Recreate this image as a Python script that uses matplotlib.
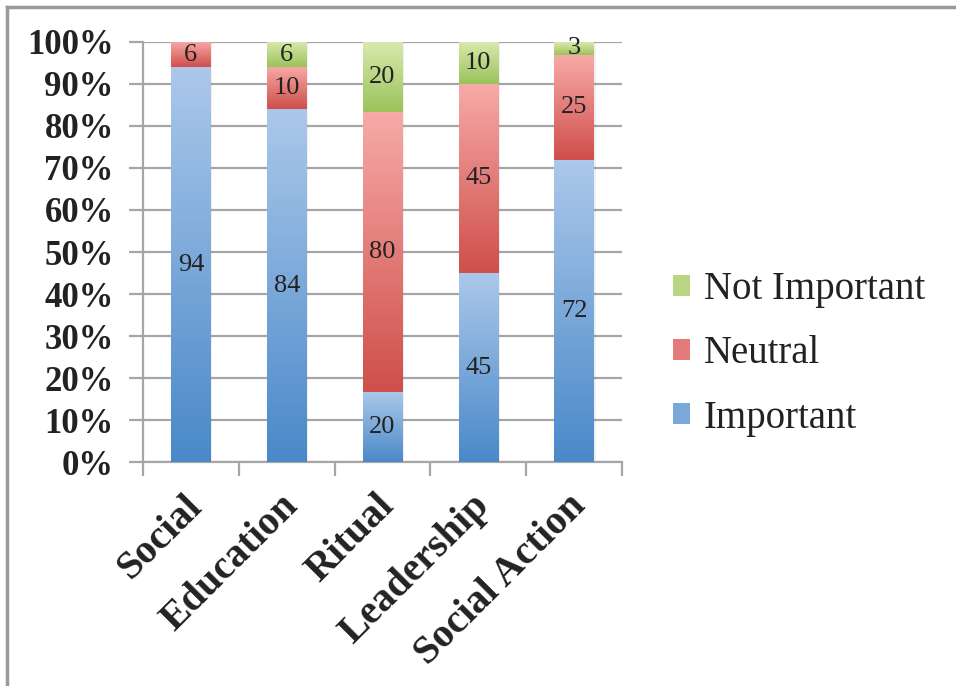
import matplotlib
matplotlib.use("Agg")
import matplotlib.pyplot as plt
import numpy as np
from matplotlib.colors import LinearSegmentedColormap, to_rgb, to_hex
from matplotlib.patches import Patch
from matplotlib.lines import Line2D
from matplotlib.transforms import ScaledTranslation

categories = ["Social", "Education", "Ritual", "Leadership", "Social Action"]
important = [94, 84, 20, 45, 72]
neutral = [6, 10, 80, 45, 25]
not_important = [0, 6, 20, 10, 3]
series_names = ["Important", "Neutral", "Not Important"]
y_ticks = [0, 10, 20, 30, 40, 50, 60, 70, 80, 90, 100]

# (top colour, bottom colour) gradient per series
grads = [("#abc8ea", "#4a89c9"), ("#f7aaa7", "#cf4f4b"), ("#dae9ae", "#9ac35b")]

fig = plt.figure(figsize=(9.56, 6.86), dpi=100)
ax = fig.add_axes([0.1496, 0.3265, 0.501, 0.6123])

x = np.arange(len(categories))
w = 0.41
data = np.array([important, neutral, not_important], dtype=float)
pct = data / data.sum(axis=0) * 100

grid_c = "#a6a6a6"
for t in y_ticks:
    ax.axhline(t, color=grid_c, lw=1.6, zorder=1)

bottom = np.zeros(len(categories))
for s in range(3):
    top_c, bot_c = grads[s]
    cmap = LinearSegmentedColormap.from_list("g%d" % s, [bot_c, top_c])
    grad = np.linspace(0, 1, 100).reshape(-1, 1)
    for i in range(len(categories)):
        h = pct[s, i]
        if h <= 0:
            continue
        # faint shadow on right side
        ax.add_patch(plt.Rectangle((x[i] - w / 2 + 0.02, bottom[i]), w, h,
                                   color="#000000", alpha=0.06, lw=0, zorder=2))
        ax.imshow(grad, cmap=cmap, origin="lower", aspect="auto",
                  extent=(x[i] - w / 2, x[i] + w / 2, bottom[i], bottom[i] + h),
                  zorder=3, interpolation="bilinear")
        ax.text(x[i], bottom[i] + h / 2, "%d" % data[s, i], ha="center", va="center",
                fontsize=19, family="Liberation Serif", color="#222222", zorder=4)
    bottom += pct[s]

ax.set_xlim(-0.5, len(categories) - 0.5)
ax.set_ylim(0, 100)
ax.set_yticks(y_ticks)
ax.set_yticklabels(["%d%%" % t for t in y_ticks], fontsize=25,
                   family="Liberation Serif", fontweight="bold")
ax.set_xticks(np.arange(len(categories) + 1) - 0.5, minor=False)
ax.set_xticklabels([])
ax.set_xticks(x, minor=True)
ax.set_xticklabels(categories, minor=True, rotation=45, ha="right",
                   rotation_mode="anchor", fontsize=29,
                   family="Liberation Serif", fontweight="bold")
ax.tick_params(axis="x", which="minor", length=0, pad=18)
ax.tick_params(axis="x", which="major", length=10, width=1.6, color=grid_c, direction="out")
ax.tick_params(axis="y", length=10, width=1.6, color=grid_c, pad=11, labelcolor="#222222")
shift = ScaledTranslation(-0.07, 0, fig.dpi_scale_trans)
for lab in ax.get_xticklabels(minor=True):
    lab.set_color("#222222")
    lab.set_transform(lab.get_transform() + shift)

for sp in ["top", "right"]:
    ax.spines[sp].set_visible(False)
ax.spines["left"].set_color(grid_c)
ax.spines["left"].set_linewidth(1.6)
ax.spines["bottom"].set_color(grid_c)
ax.spines["bottom"].set_linewidth(1.6)

order = [2, 1, 0]
handles = []
for s in order:
    top_c, bot_c = grads[s]
    mid = (np.array(to_rgb(top_c)) + np.array(to_rgb(bot_c))) / 2
    handles.append(Patch(facecolor=to_hex(mid), edgecolor="none"))
labels = [series_names[s] for s in order]
fig.legend(handles, labels, loc="center left", bbox_to_anchor=(0.667, 0.484),
           frameon=False, prop={"family": "Liberation Serif", "size": 28},
           handlelength=0.45, handleheight=0.45, handletextpad=0.35, labelspacing=0.7,
           labelcolor="#222222")

# outer border (top and left)
fig.add_artist(Line2D([0.0075, 1.0], [0.9895, 0.9895], color="#9a9a9a", lw=2.5,
                      transform=fig.transFigure))
fig.add_artist(Line2D([0.0075, 0.0075], [0.0, 0.9895], color="#9a9a9a", lw=2.5,
                      transform=fig.transFigure))

fig.savefig("out.png", dpi=100)
